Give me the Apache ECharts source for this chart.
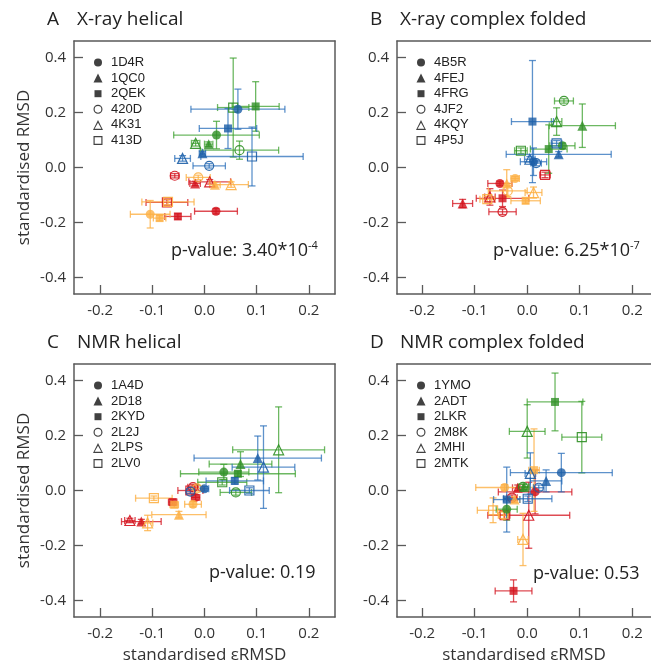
<!DOCTYPE html>
<html>
<head>
<meta charset="utf-8">
<script src="https://cdn.jsdelivr.net/npm/echarts@6/dist/echarts.min.js"></script>
<style>html,body{margin:0;padding:0;background:#fff}#c{width:651px;height:668px}</style>
</head>
<body>
<div id="c"></div>
<script>
// ---- data: each row = [x, y, xErr, yErr]; row order = legend order of structures
const xTicks = [-0.2, -0.1, 0.0, 0.1, 0.2];
const yTicks = [-0.4, -0.2, 0.0, 0.2, 0.4];
const colorNames = ['red', 'orange', 'green', 'blue'];

const namesA = ['1D4R', '1QC0', '2QEK', '420D', '4K31', '413D'];
const namesB = ['4B5R', '4FEJ', '4FRG', '4JF2', '4KQY', '4P5J'];
const namesC = ['1A4D', '2D18', '2KYD', '2L2J', '2LPS', '2LV0'];
const namesD = ['1YMO', '2ADT', '2LKR', '2M8K', '2MHI', '2MTK'];

const A_red = [[0.022,-0.159,0.041,0.010],[-0.018,-0.058,0.010,0.008],[-0.051,-0.178,0.025,0.010],[-0.057,-0.030,0.008,0.008],[0.010,-0.052,0.040,0.008],[-0.072,-0.127,0.040,0.010]];
const A_orange = [[-0.104,-0.170,0.038,0.050],[0.020,-0.063,0.010,0.008],[-0.086,-0.184,0.012,0.010],[-0.012,-0.036,0.023,0.008],[0.051,-0.062,0.033,0.010],[-0.070,-0.125,0.050,0.010]];
const A_green = [[0.023,0.118,0.082,0.050],[0.008,0.085,0.008,0.008],[0.098,0.222,0.045,0.090],[0.067,0.063,0.075,0.033],[-0.017,0.088,0.008,0.010],[0.055,0.218,0.030,0.180]];
const A_blue = [[0.064,0.212,0.090,0.073],[-0.004,0.052,0.006,0.006],[0.045,0.142,0.055,0.073],[0.009,0.006,0.031,0.008],[-0.042,0.033,0.015,0.010],[0.091,0.040,0.098,0.107]];

const B_red = [[-0.052,-0.058,0.023,0.008],[-0.123,-0.131,0.019,0.015],[-0.047,-0.112,0.050,0.030],[-0.047,-0.161,0.026,0.010],[-0.071,-0.107,0.010,0.030],[0.034,-0.027,0.010,0.010]];
const B_orange = [[-0.023,-0.040,0.008,0.008],[-0.039,-0.058,0.010,0.050],[-0.003,-0.121,0.028,0.010],[-0.037,-0.085,0.037,0.020],[0.012,-0.091,0.016,0.020],[-0.076,-0.115,0.014,0.010]];
const B_green = [[0.067,0.079,0.024,0.010],[0.105,0.152,0.063,0.079],[0.041,0.067,0.035,0.088],[0.070,0.242,0.018,0.008],[0.056,0.167,0.010,0.050],[-0.012,0.061,0.012,0.010]];
const B_blue = [[0.012,0.021,0.025,0.050],[0.060,0.048,0.100,0.010],[0.010,0.167,0.040,0.222],[0.017,0.016,0.010,0.010],[0.005,0.030,0.010,0.010],[0.056,0.088,0.010,0.010]];

const C_red = [[-0.017,-0.025,0.008,0.010],[-0.121,-0.113,0.038,0.008],[-0.061,-0.042,0.008,0.010],[-0.022,0.012,0.010,0.010],[-0.143,-0.109,0.010,0.008],[-0.027,0.000,0.024,0.010]];
const C_orange = [[-0.022,-0.050,0.016,0.010],[-0.049,-0.088,0.052,0.012],[-0.058,-0.052,0.008,0.010],[-0.014,0.008,0.010,0.010],[-0.109,-0.118,0.010,0.028],[-0.097,-0.028,0.035,0.008]];
const C_green = [[0.037,0.067,0.048,0.028],[0.069,0.096,0.060,0.045],[0.064,0.061,0.110,0.010],[0.060,-0.007,0.030,0.010],[0.142,0.148,0.088,0.156],[0.034,0.030,0.047,0.010]];
const C_blue = [[0.000,0.006,0.008,0.008],[0.102,0.118,0.122,0.080],[0.058,0.035,0.055,0.012],[-0.027,-0.004,0.008,0.008],[0.113,0.085,0.060,0.150],[0.086,0.000,0.038,0.010]];

const D_red = [[0.015,-0.005,0.070,0.080],[-0.018,0.010,0.010,0.010],[-0.026,-0.365,0.035,0.040],[-0.029,-0.026,0.010,0.010],[0.003,-0.090,0.078,0.120],[-0.043,-0.090,0.010,0.015]];
const D_orange = [[-0.043,0.011,0.055,0.010],[-0.024,-0.033,0.010,0.010],[0.013,0.074,0.010,0.150],[-0.045,-0.090,0.010,0.012],[-0.008,-0.178,0.010,0.095],[-0.065,-0.072,0.030,0.045]];
const D_green = [[-0.039,-0.068,0.020,0.040],[-0.006,0.013,0.010,0.010],[0.053,0.322,0.053,0.105],[-0.008,0.013,0.010,0.010],[0.000,0.215,0.034,0.097],[0.104,0.194,0.038,0.130]];
const D_blue = [[0.065,0.065,0.097,0.070],[0.036,0.035,0.030,0.040],[-0.039,-0.033,0.025,0.118],[0.022,0.010,0.010,0.010],[0.006,0.062,0.010,0.075],[0.001,-0.030,0.046,0.010]];

const pValues = ['3.40*10', '6.25*10', '0.19', '0.53'];
const pExps = ['-4', '-7', '', ''];
const panelLetters = ['A', 'B', 'C', 'D'];
const panelTitles = ['X-ray helical', 'X-ray complex folded', 'NMR helical', 'NMR complex folded'];

// ---- styling / layout
const markerColor = {red:'#d3111c', orange:'#fdb045', green:'#2f8f25', blue:'#1c5ea6'};
const barColor = {red:'rgba(214,30,40,0.8)', orange:'rgba(253,176,69,0.8)', green:'rgba(60,160,45,0.75)', blue:'rgba(40,110,185,0.75)'};
const shapes = [
  {s:'circle', open:false, size:9},
  {s:'triangle', open:false, size:10},
  {s:'rect', open:false, size:8},
  {s:'circle', open:true, size:9},
  {s:'triangle', open:true, size:10},
  {s:'rect', open:true, size:9}
];
// legend icons: filled shapes, then thin-outlined (ring) shapes as paths
const legendIcons = [
  'circle', 'triangle', 'rect',
  'path://M50,0 A50,50 0 1,1 50,100 A50,50 0 1,1 50,0 Z M50,13 A37,37 0 1,0 50,87 A37,37 0 1,0 50,13 Z',
  'path://M50,0 L100,100 L0,100 Z M50,28 L16,88 L84,88 Z',
  'path://M0,0 L100,0 L100,100 L0,100 Z M13,13 L13,87 L87,87 L87,13 Z'
];
const legendSizes = [8, 9, 7, 9, 10, 9];

const panels = [
  {names:namesA, data:{red:A_red, orange:A_orange, green:A_green, blue:A_blue}, left:74, top:41, width:261, height:253, xMin:-0.25, xMax:0.25, right:true, xName:false, pLeft:171, pTop:250},
  {names:namesB, data:{red:B_red, orange:B_orange, green:B_green, blue:B_blue}, left:397, top:41, width:254, height:253, xMin:-0.248, xMax:0.2358, right:false, xName:false, pLeft:493, pTop:250},
  {names:namesC, data:{red:C_red, orange:C_orange, green:C_green, blue:C_blue}, left:74, top:364, width:261, height:253, xMin:-0.25, xMax:0.25, right:true, xName:true, pLeft:209, pTop:574},
  {names:namesD, data:{red:D_red, orange:D_orange, green:D_green, blue:D_blue}, left:397, top:364, width:254, height:253, xMin:-0.248, xMax:0.2358, right:false, xName:true, pLeft:533, pTop:575}
];

const FONT = '"Open Sans", "DejaVu Sans", sans-serif';
const AXC = '#5a5a5a';
const near = (arr, v) => arr.some(t => Math.abs(t - v) < 1e-6);

const grid = [], xAxis = [], yAxis = [], series = [], legend = [], graphic = [];

function errRender(params, api) {
  const x = api.value(0), y = api.value(1), xe = api.value(2), ye = api.value(3);
  const l = api.coord([x - xe, y]), r = api.coord([x + xe, y]);
  const t = api.coord([x, y + ye]), b = api.coord([x, y - ye]);
  const h = 3.5;
  const st = {stroke: api.visual('color'), lineWidth: 1.3, fill: null};
  const ln = (x1, y1, x2, y2) => ({type:'line', shape:{x1, y1, x2, y2}, style:st});
  return {type:'group', children:[
    ln(l[0], l[1], r[0], r[1]),
    ln(l[0], l[1]-h, l[0], l[1]+h),
    ln(r[0], r[1]-h, r[0], r[1]+h),
    ln(t[0], t[1], b[0], b[1]),
    ln(t[0]-h, t[1], t[0]+h, t[1]),
    ln(b[0]-h, b[1], b[0]+h, b[1])
  ]};
}

const decorAxis = (extra) => Object.assign({
  type:'value', axisLine:{show:true, onZero:false, lineStyle:{color:AXC, width:1.5}},
  axisTick:{show:false}, axisLabel:{show:false}, splitLine:{show:false}
}, extra);

panels.forEach((p, i) => {
  grid.push({left:p.left, top:p.top, width:p.width, height:p.height, show:false});
  const xi = xAxis.length;
  xAxis.push({
    type:'value', gridIndex:i, min:p.xMin, max:p.xMax, splitNumber:5, position:'bottom',
    axisLine:{show:true, onZero:false, lineStyle:{color:AXC, width:1.5}},
    axisTick:{show:true, inside:true, length:9, lineStyle:{color:AXC, width:1.3}},
    axisLabel:{show:true, margin:9, color:'#333', fontSize:15, fontFamily:FONT, showMinLabel:false, showMaxLabel:false,
      formatter: v => near(xTicks, v) ? v.toFixed(1) : ''},
    splitLine:{show:false},
    name: p.xName ? 'standardised εRMSD' : '', nameLocation:'middle', nameGap:30,
    nameTextStyle:{fontSize:17, color:'#333', fontFamily:FONT}
  });
  xAxis.push(decorAxis({gridIndex:i, min:p.xMin, max:p.xMax, position:'top'}));
  const yi = yAxis.length;
  yAxis.push({
    type:'value', gridIndex:i, min:-0.46, max:0.46, splitNumber:5, position:'left',
    axisLine:{show:true, onZero:false, lineStyle:{color:AXC, width:1.5}},
    axisTick:{show:true, inside:true, length:9, lineStyle:{color:AXC, width:1.3}},
    axisLabel:{show:true, margin:8, color:'#333', fontSize:15, fontFamily:FONT, showMinLabel:false, showMaxLabel:false,
      formatter: v => near(yTicks, v) ? v.toFixed(1) : ''},
    splitLine:{show:false},
    name: (i % 2 === 0) ? 'standardised RMSD' : '', nameLocation:'middle', nameGap:41,
    nameTextStyle:{fontSize:17, color:'#333', fontFamily:FONT}
  });
  if (p.right) yAxis.push(decorAxis({gridIndex:i, min:-0.46, max:0.46, position:'right'}));

  colorNames.forEach(cn => {
    series.push({
      type:'custom', xAxisIndex:xi, yAxisIndex:yi, renderItem:errRender,
      itemStyle:{color:barColor[cn]}, encode:{x:0, y:1}, silent:true, z:2,
      data: p.data[cn].map(r => r.slice())
    });
  });
  colorNames.forEach(cn => {
    series.push({
      type:'scatter', xAxisIndex:xi, yAxisIndex:yi, z:3, silent:true,
      data: p.data[cn].map((r, k) => {
        const sh = shapes[k];
        return {
          value:[r[0], r[1]], symbol:sh.s, symbolSize:sh.size,
          itemStyle: sh.open ? {color:'rgba(255,255,255,0)', borderColor:markerColor[cn], borderWidth:1.2, opacity:0.9}
                             : {color:markerColor[cn], borderWidth:0}
        };
      })
    });
  });
  // one legend component per structure row so icon sizes can differ
  p.names.forEach((nm, k) => {
    series.push({type:'scatter', name:nm, xAxisIndex:xi, yAxisIndex:yi, data:[], symbol:'circle', itemStyle:{color:'#111'}});
    const sz = legendSizes[k];
    legend.push({
      orient:'vertical', left:p.left + 24 - sz / 2, top:p.top + 21.5 - 6.5 + k * 15.6, padding:0,
      itemWidth:sz, itemHeight:sz, selectedMode:false,
      textStyle:{fontSize:13, color:'#222', fontFamily:'"Liberation Sans", Arial, sans-serif', padding:[0,0,0,8 - sz / 2]},
      data:[{name:nm, icon:legendIcons[k], itemStyle:{color:'#111', borderWidth:0}}]
    });
  });

  // panel letter and title
  const ty = p.top - 20;
  graphic.push({type:'text', left:p.left - 27, top:ty - 11, style:{text:panelLetters[i], fontSize:19, fontFamily:FONT, fill:'#222'}});
  graphic.push({type:'text', left:p.left + 3, top:ty - 11, style:{text:panelTitles[i], fontSize:19, fontFamily:FONT, fill:'#222'}});
  // p-value
  graphic.push({type:'text', left:p.pLeft, top:p.pTop - 10, z:10, style:{
    text: 'p-value: ' + pValues[i] + (pExps[i] ? '{sup|' + pExps[i] + '}' : ''),
    fontSize:18, fontFamily:FONT, fill:'#222',
    rich:{sup:{fontSize:11, fontFamily:FONT, fill:'#222', verticalAlign:'top', padding:[0,0,10,0]}}
  }});
});

const chart = echarts.init(document.getElementById('c'), null, {renderer:'canvas'});
chart.setOption({animation:false, backgroundColor:'#fff', grid, xAxis, yAxis, series, legend, graphic});
</script>
</body>
</html>
